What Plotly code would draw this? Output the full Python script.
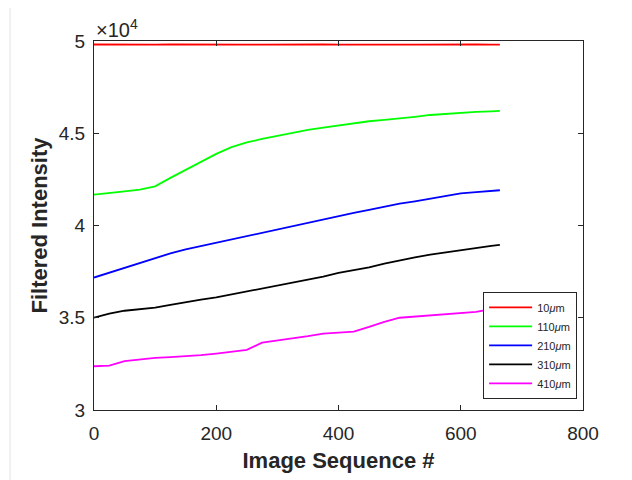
import plotly.graph_objects as go

# sample indices (image sequence #)
seq = [0, 25, 50, 75, 100, 125, 150, 175, 200, 225, 250, 275, 300, 325, 350,
       375, 400, 425, 450, 475, 500, 525, 550, 575, 600, 625, 650, 664]

# filtered intensity (x10^4)
i10 = [4.981, 4.980, 4.981, 4.979, 4.980, 4.981, 4.980, 4.979, 4.980, 4.981,
       4.980, 4.980, 4.981, 4.979, 4.980, 4.981, 4.980, 4.979, 4.980, 4.981,
       4.980, 4.980, 4.981, 4.979, 4.980, 4.981, 4.980, 4.980]
i110 = [4.167, 4.178, 4.185, 4.195, 4.212, 4.258, 4.302, 4.345, 4.388, 4.425,
        4.450, 4.469, 4.486, 4.505, 4.518, 4.530, 4.543, 4.555, 4.565, 4.572,
        4.579, 4.589, 4.599, 4.606, 4.613, 4.616, 4.619, 4.621]
i210 = [3.718, 3.745, 3.772, 3.797, 3.823, 3.849, 3.870, 3.888, 3.908, 3.925,
        3.946, 3.963, 3.982, 3.998, 4.016, 4.033, 4.050, 4.068, 4.085, 4.103,
        4.118, 4.131, 4.145, 4.160, 4.174, 4.181, 4.187, 4.191]
i310 = [3.500, 3.522, 3.538, 3.545, 3.555, 3.570, 3.586, 3.598, 3.610, 3.626,
        3.642, 3.660, 3.675, 3.693, 3.708, 3.723, 3.743, 3.757, 3.773, 3.793,
        3.811, 3.827, 3.842, 3.855, 3.866, 3.878, 3.890, 3.895]
i410 = [3.237, 3.241, 3.265, 3.274, 3.282, 3.287, 3.291, 3.297, 3.306, 3.315,
        3.326, 3.365, 3.377, 3.385, 3.400, 3.414, 3.419, 3.425, 3.450, 3.478,
        3.500, 3.507, 3.513, 3.518, 3.524, 3.532, 3.547, 3.559]

names = ["10<i>μ</i>m", "110<i>μ</i>m", "210<i>μ</i>m", "310<i>μ</i>m", "410<i>μ</i>m"]
series = [i10, i110, i210, i310, i410]
colors = ["#ff0000", "#00ff00", "#0000ff", "#000000", "#ff00ff"]

ytickvals = [3, 3.5, 4, 4.5, 5]
yticktext = ["3", "3.5", "4", "4.5", "5"]
xtickvals = [0, 200, 400, 600, 800]

fig = go.Figure()
for name, vals, col in zip(names, series, colors):
    fig.add_trace(go.Scatter(
        x=seq, y=[v * 1e4 for v in vals], mode="lines", name=name,
        line=dict(color=col, width=1.8)))

FONT = "Liberation Sans, Arial, sans-serif"
axis_common = dict(
    showline=True, linecolor="#262626", linewidth=1, mirror="ticks",
    ticks="inside", ticklen=5, tickcolor="#262626", showgrid=False,
    zeroline=False, tickfont=dict(family=FONT, size=19, color="#262626"),
)

# page body has an 8px margin: compensate so the plot area sits at 94..583 x 41..410
fig.update_layout(
    width=624, height=472,
    margin=dict(l=86, r=49, t=33, b=70),
    paper_bgcolor="white", plot_bgcolor="white",
    font=dict(family=FONT, color="#262626"),
    xaxis=dict(range=[0, 800], tickvals=xtickvals, ticklabelstandoff=6,
               title=dict(text="<b>Image Sequence #</b>",
                          font=dict(size=22, color="#262626"), standoff=9),
               **axis_common),
    yaxis=dict(range=[30000, 50000], tickvals=[v * 1e4 for v in ytickvals],
               ticktext=yticktext, ticklabelstandoff=4,
               title=dict(text="<b>Filtered Intensity</b>",
                          font=dict(size=22, color="#262626"), standoff=5),
               **axis_common),
    legend=dict(x=0.988, y=0.03, xanchor="right", yanchor="bottom",
                bordercolor="#262626", borderwidth=1, bgcolor="white",
                font=dict(family=FONT, size=11, color="#262626"), tracegroupgap=0,
                itemwidth=43),
    showlegend=True,
)

fig.add_annotation(text="×10<sup>4</sup>", xref="paper", yref="paper",
                   x=0.0, y=1.0, xanchor="left", yanchor="bottom", showarrow=False,
                   font=dict(family=FONT, size=20, color="#262626"), yshift=-2)

fig.add_shape(type="line", xref="paper", yref="paper",
              x0=(10 - 94) / 489, x1=(10 - 94) / 489, y0=-0.2, y1=1.2,
              line=dict(color="#e4e4e4", width=1))

fig.write_html("out.html")
